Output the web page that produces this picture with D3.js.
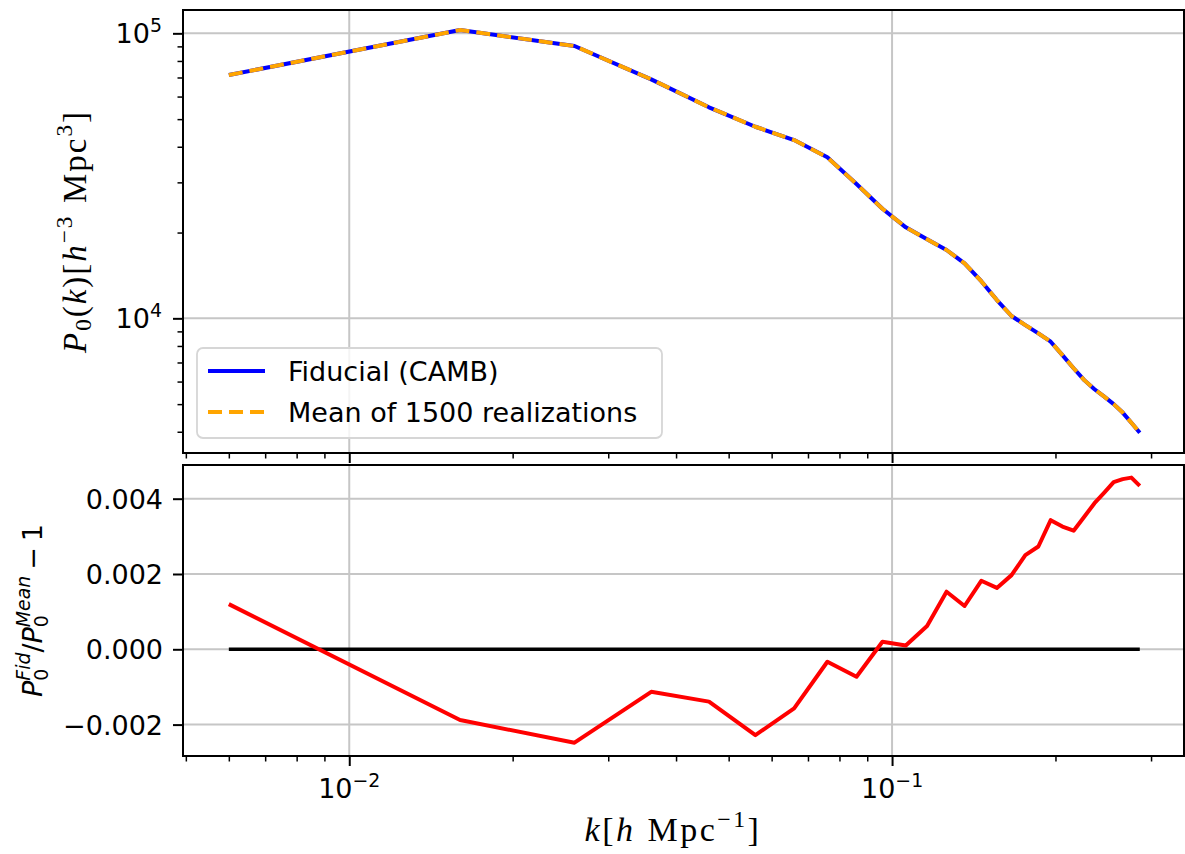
<!DOCTYPE html>
<html>
<head>
<meta charset="utf-8">
<script src="https://cdn.jsdelivr.net/npm/d3@7"></script>
<style>
  body { margin: 0; background: #fff; }
  svg { display: block; }
</style>
</head>
<body>
<svg width="1185" height="854"></svg>
<script>
// wavenumber bins (h/Mpc)
var kVals = [0.006, 0.016, 0.026, 0.036, 0.046, 0.056, 0.066, 0.076, 0.086, 0.096,
             0.106, 0.116, 0.126, 0.136, 0.146, 0.156, 0.166, 0.176, 0.186, 0.196,
             0.206, 0.216, 0.226, 0.236, 0.246, 0.256, 0.266, 0.276, 0.286];

// monopole P0(k), fiducial CAMB
var pFid = [71400, 102700, 90250, 68960, 55010, 47010, 42230, 36720, 29590, 24240,
            20860, 18930, 17370, 15600, 13500, 11590, 10190, 9470, 8860, 8280,
            7430, 6680, 6070, 5640, 5310, 5000, 4670, 4300, 3970];

// mean of 1500 realizations (lies on top of the fiducial curve)
var pMean = [71400, 102700, 90250, 68960, 55010, 47010, 42230, 36720, 29590, 24240,
             20860, 18930, 17370, 15600, 13500, 11590, 10190, 9470, 8860, 8280,
             7430, 6680, 6070, 5640, 5310, 5000, 4670, 4300, 3970];

// P0_fid / P0_mean - 1
var ratio = [0.00120, -0.00188, -0.00248, -0.00113, -0.00139, -0.00228, -0.00157, -0.00033, -0.00073, 0.00020,
             0.00010, 0.00062, 0.00153, 0.00115, 0.00182, 0.00163, 0.00197, 0.00250, 0.00273, 0.00343,
             0.00326, 0.00315, 0.00352, 0.00388, 0.00416, 0.00444, 0.00452, 0.00456, 0.00434];

// tick values
var xMajor = [0.01, 0.1];
var xMajorExp = ['\u22122', '\u22121'];
var y1Major = [1e4, 1e5];
var y1MajorExp = ['4', '5'];
var y2Major = [-0.002, 0, 0.002, 0.004];
var y2Labels = ['\u22120.002', '0.000', '0.002', '0.004'];

var legendNames = ['Fiducial (CAMB)', 'Mean of 1500 realizations'];

var svg = d3.select('svg');
var sans = 'DejaVu Sans';
var serif = 'Liberation Serif';
var fs = 27;

// panel boxes
var left = 183, right = 1184;
var top1 = 10, bot1 = 453;
var top2 = 465, bot2 = 756;

var x = d3.scaleLog().domain([0.00494, 0.345]).range([left, right]);
var y1 = d3.scaleLog().domain([3369, 120750]).range([bot1, top1]);
var y2 = d3.scaleLinear().domain([-0.002834, 0.004895]).range([bot2, top2]);

var xMinor = x.ticks().filter(function(d){ return xMajor.indexOf(d) < 0; });
var y1Minor = y1.ticks().filter(function(d){ return y1Major.indexOf(d) < 0; });

var defs = svg.append('defs');
defs.append('clipPath').attr('id', 'clip1').append('rect')
    .attr('x', left).attr('y', top1).attr('width', right - left).attr('height', bot1 - top1);
defs.append('clipPath').attr('id', 'clip2').append('rect')
    .attr('x', left).attr('y', top2).attr('width', right - left).attr('height', bot2 - top2);

var gridColor = '#c6c6c6';

// gridlines
function drawGrid(yScale, yTicks, y0, y1px){
    var g = svg.append('g');
    g.selectAll('.vg').data(xMajor).enter().append('line')
        .attr('x1', function(d){ return x(d); }).attr('x2', function(d){ return x(d); })
        .attr('y1', y0).attr('y2', y1px)
        .attr('stroke', gridColor).attr('stroke-width', 2);
    g.selectAll('.hg').data(yTicks).enter().append('line')
        .attr('x1', left).attr('x2', right)
        .attr('y1', function(d){ return yScale(d); }).attr('y2', function(d){ return yScale(d); })
        .attr('stroke', gridColor).attr('stroke-width', 2);
}
drawGrid(y1, y1Major, top1, bot1);
drawGrid(y2, y2Major, top2, bot2);

// top panel lines
var line1 = d3.line()
    .x(function(d, i){ return x(kVals[i]); })
    .y(function(d){ return y1(d); });

svg.append('path').datum(pFid)
    .attr('clip-path', 'url(#clip1)')
    .attr('d', line1)
    .attr('fill', 'none').attr('stroke', '#0000ff').attr('stroke-width', 4)
    .attr('stroke-linejoin', 'round');

svg.append('path').datum(pMean)
    .attr('clip-path', 'url(#clip1)')
    .attr('d', line1)
    .attr('fill', 'none').attr('stroke', '#ffa500').attr('stroke-width', 4)
    .attr('stroke-dasharray', '14,7')
    .attr('stroke-linejoin', 'round');

// bottom panel lines
var zeroLine = [kVals[0], kVals[kVals.length - 1]];
svg.append('line')
    .attr('x1', x(zeroLine[0])).attr('x2', x(zeroLine[1]))
    .attr('y1', y2(0)).attr('y2', y2(0))
    .attr('stroke', '#000').attr('stroke-width', 3.5);

var line2 = d3.line()
    .x(function(d, i){ return x(kVals[i]); })
    .y(function(d){ return y2(d); });

svg.append('path').datum(ratio)
    .attr('clip-path', 'url(#clip2)')
    .attr('d', line2)
    .attr('fill', 'none').attr('stroke', '#ff0000').attr('stroke-width', 4)
    .attr('stroke-linejoin', 'round');

// ticks
function styleTicks(g, w){
    g.select('.domain').remove();
    g.attr('color', '#000');
    g.selectAll('.tick line').attr('stroke-width', w);
}

[bot1, bot2].forEach(function(yy){
    svg.append('g').attr('transform', 'translate(0,' + yy + ')')
        .call(d3.axisBottom(x).tickValues(xMajor).tickSize(10).tickFormat(''))
        .call(styleTicks, 2);
    svg.append('g').attr('transform', 'translate(0,' + yy + ')')
        .call(d3.axisBottom(x).tickValues(xMinor).tickSize(5.5).tickFormat(''))
        .call(styleTicks, 1.5);
});

svg.append('g').attr('transform', 'translate(' + left + ',0)')
    .call(d3.axisLeft(y1).tickValues(y1Major).tickSize(10).tickFormat(''))
    .call(styleTicks, 2);
svg.append('g').attr('transform', 'translate(' + left + ',0)')
    .call(d3.axisLeft(y1).tickValues(y1Minor).tickSize(5.5).tickFormat(''))
    .call(styleTicks, 1.5);
svg.append('g').attr('transform', 'translate(' + left + ',0)')
    .call(d3.axisLeft(y2).tickValues(y2Major).tickSize(10).tickFormat(''))
    .call(styleTicks, 2);

// spines
svg.append('rect').attr('x', left).attr('y', top1).attr('width', right - left).attr('height', bot1 - top1)
    .attr('fill', 'none').attr('stroke', '#000').attr('stroke-width', 2);
svg.append('rect').attr('x', left).attr('y', top2).attr('width', right - left).attr('height', bot2 - top2)
    .attr('fill', 'none').attr('stroke', '#000').attr('stroke-width', 2);

// power-of-ten labels
function powText(sel, exp){
    sel.append('tspan').text('10');
    sel.append('tspan').attr('dy', -11).style('font-size', (fs * 0.7) + 'px').text(exp);
}

xMajor.forEach(function(d, i){
    svg.append('text')
        .attr('x', x(d)).attr('y', 798)
        .attr('text-anchor', 'middle')
        .style('font-family', sans).style('font-size', fs + 'px')
        .call(powText, xMajorExp[i]);
});

y1Major.forEach(function(d, i){
    svg.append('text')
        .attr('x', 162).attr('y', y1(d) + 10)
        .attr('text-anchor', 'end')
        .style('font-family', sans).style('font-size', fs + 'px')
        .call(powText, y1MajorExp[i]);
});

y2Major.forEach(function(d, i){
    svg.append('text')
        .attr('x', 163).attr('y', y2(d) + 10)
        .attr('text-anchor', 'end')
        .style('font-family', sans).style('font-size', fs + 'px')
        .text(y2Labels[i]);
});

// math-like label built from pieces
function mathText(g, parts, size, family, spacing){
    var xx = 0, prevStart = 0;
    parts.forEach(function(p){
        if (p.gap) { xx += p.gap * size; return; }
        var start = p.stack ? prevStart : xx;
        var t = g.append('text')
            .attr('x', start)
            .attr('y', -(p.up || 0) * size)
            .style('font-family', family)
            .style('font-size', (size * (p.s || 1)) + 'px')
            .style('font-style', p.it ? 'italic' : 'normal')
            .style('letter-spacing', (spacing || 0) + 'px')
            .text(p.t);
        var w = t.node().getComputedTextLength();
        xx = p.stack ? Math.max(xx, start + w) : start + w;
        prevStart = start;
    });
    return xx;
}

function placeLabel(cx, cy, rot, parts, size, family, spacing){
    var outer = svg.append('g').attr('transform', 'translate(' + cx + ',' + cy + ') rotate(' + rot + ')');
    var inner = outer.append('g');
    var w = mathText(inner, parts, size, family, spacing);
    inner.attr('transform', 'translate(' + (-w / 2) + ',0)');
}

// x label: k[h Mpc^-1]
placeLabel(673, 841, 0, [
    {t: 'k', it: true}, {t: '['}, {t: 'h', it: true}, {gap: 0.35}, {t: 'Mpc'},
    {t: '\u22121', s: 0.7, up: 0.42}, {t: ']'}
], 34, serif, 2.5);

// top y label: P0(k)[h^-3 Mpc^3]
placeLabel(86, (top1 + bot1) / 2, -90, [
    {t: 'P', it: true}, {t: '0', s: 0.7, up: -0.15}, {t: '('}, {t: 'k', it: true}, {t: ')['},
    {t: 'h', it: true}, {t: '\u22123', s: 0.7, up: 0.42}, {gap: 0.35}, {t: 'Mpc'},
    {t: '3', s: 0.7, up: 0.42}, {t: ']'}
], 33, serif, 2);

// bottom y label: P0^Fid / P0^Mean - 1
placeLabel(42, (top2 + bot2) / 2, -90, [
    {t: 'P', it: true}, {t: 'Fid', it: true, s: 0.7, up: 0.45}, {t: '0', s: 0.7, up: -0.22, stack: true},
    {t: '/'}, {t: 'P', it: true}, {t: 'Mean', it: true, s: 0.7, up: 0.45}, {t: '0', s: 0.7, up: -0.22, stack: true},
    {gap: 0.22}, {t: '\u2212'}, {gap: 0.22}, {t: '1'}
], 27, sans);

// legend
var leg = svg.append('g');
leg.append('rect')
    .attr('x', 197).attr('y', 348).attr('width', 465).attr('height', 90).attr('rx', 6)
    .attr('fill', '#fff').attr('fill-opacity', 0.8)
    .attr('stroke', '#d6d6d6').attr('stroke-width', 1.8);

var legStyles = [
    {color: '#0000ff', dash: null},
    {color: '#ffa500', dash: '14,7'}
];
legendNames.forEach(function(name, i){
    var yy = 371 + i * 41;
    leg.append('line')
        .attr('x1', 208).attr('x2', 265).attr('y1', yy).attr('y2', yy)
        .attr('stroke', legStyles[i].color).attr('stroke-width', 4)
        .attr('stroke-dasharray', legStyles[i].dash);
    leg.append('text')
        .attr('x', 288).attr('y', yy + 10)
        .style('font-family', sans).style('font-size', fs + 'px')
        .text(name);
});
</script>
</body>
</html>
